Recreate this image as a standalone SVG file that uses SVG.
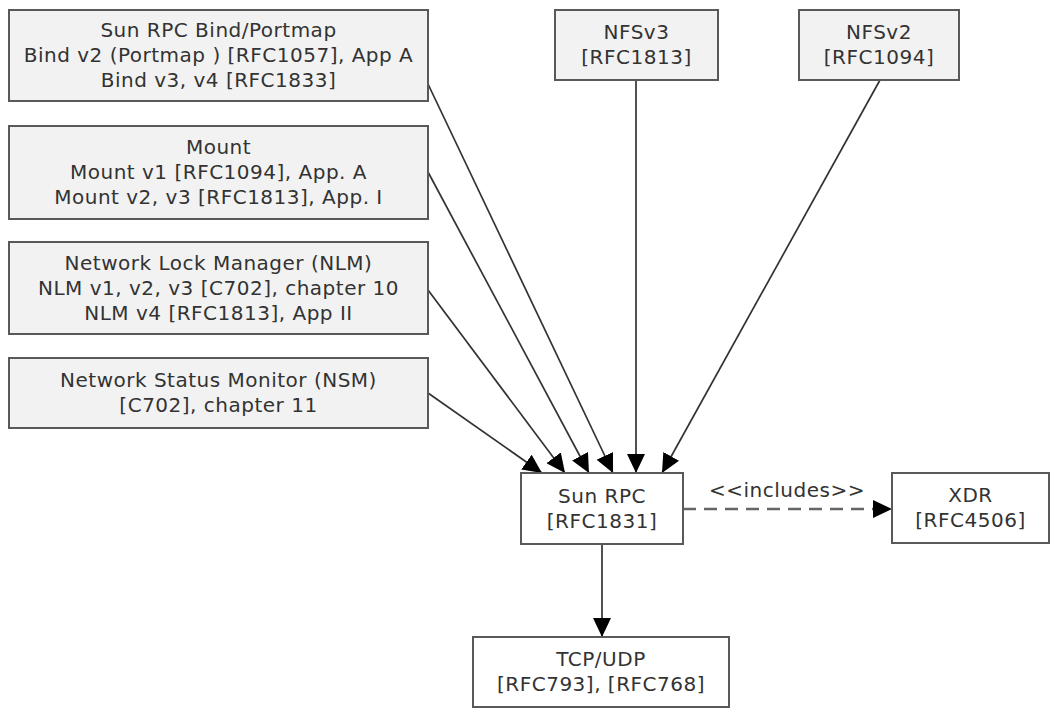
<svg xmlns="http://www.w3.org/2000/svg" width="1057" height="709" viewBox="0 0 1057 709">
  <style>
    .box { stroke: #595959; stroke-width: 2; }
    .grey { fill: #f2f2f2; }
    .white { fill: #ffffff; }
    text { font-family: "DejaVu Sans", Verdana, sans-serif; font-size: 20px; letter-spacing: 0.5px; fill: #333333; text-anchor: middle; }
    .edge { fill: none; stroke: #333333; stroke-width: 1.7; }
    .dash { fill: none; stroke: #666666; stroke-width: 2.5; stroke-dasharray: 13 8; }
  </style>
  <defs>
    <marker id="arrow" markerUnits="userSpaceOnUse" markerWidth="20" markerHeight="18" refX="19" refY="9" orient="auto">
      <path d="M0,0 L19,9 L0,18 Z" fill="#000000"/>
    </marker>
  </defs>

  <rect width="1057" height="709" fill="#ffffff"/>

  <g id="connectors">
    <path class="edge" d="M428,84 L613,473" marker-end="url(#arrow)"/>
    <path class="edge" d="M428,172 L589,473" marker-end="url(#arrow)"/>
    <path class="edge" d="M428,290 L565,473" marker-end="url(#arrow)"/>
    <path class="edge" d="M428,393 L542,473" marker-end="url(#arrow)"/>
    <path class="edge" d="M636,80 L636,473" marker-end="url(#arrow)"/>
    <path class="edge" d="M880,80 L662,473" marker-end="url(#arrow)"/>
    <path class="edge" d="M602,544 L602,637" marker-end="url(#arrow)"/>
    <path class="dash" d="M683,509 L873,509"/>
    <path d="M873,500 L892,509 L873,518 Z" fill="#000000"/>
    <text x="787" y="497">&lt;&lt;includes&gt;&gt;</text>
  </g>

  <g id="bind">
    <rect class="box grey" x="9" y="10" width="419" height="91"/>
    <text x="218.5" y="37">Sun RPC Bind/Portmap</text>
    <text x="218.5" y="62">Bind v2 (Portmap ) [RFC1057], App A</text>
    <text x="218.5" y="87">Bind v3, v4 [RFC1833]</text>
  </g>

  <g id="mount">
    <rect class="box grey" x="9" y="126" width="419" height="93"/>
    <text x="218.5" y="154">Mount</text>
    <text x="218.5" y="179">Mount v1 [RFC1094], App. A</text>
    <text x="218.5" y="204">Mount v2, v3 [RFC1813], App. I</text>
  </g>

  <g id="nlm">
    <rect class="box grey" x="9" y="242" width="419" height="92"/>
    <text x="218.5" y="269.5">Network Lock Manager (NLM)</text>
    <text x="218.5" y="294.5">NLM v1, v2, v3 [C702], chapter 10</text>
    <text x="218.5" y="319.5">NLM v4 [RFC1813], App II</text>
  </g>

  <g id="nsm">
    <rect class="box grey" x="9" y="358" width="419" height="70"/>
    <text x="218.5" y="387">Network Status Monitor (NSM)</text>
    <text x="218.5" y="412">[C702], chapter 11</text>
  </g>

  <g id="nfsv3">
    <rect class="box grey" x="555" y="10" width="163" height="70"/>
    <text x="636.5" y="39">NFSv3</text>
    <text x="636.5" y="64">[RFC1813]</text>
  </g>

  <g id="nfsv2">
    <rect class="box grey" x="799" y="10" width="160" height="70"/>
    <text x="879" y="39">NFSv2</text>
    <text x="879" y="64">[RFC1094]</text>
  </g>

  <g id="sunrpc">
    <rect class="box white" x="521" y="473" width="162" height="71"/>
    <text x="602" y="502.5">Sun RPC</text>
    <text x="602" y="527.5">[RFC1831]</text>
  </g>

  <g id="xdr">
    <rect class="box white" x="892" y="473" width="157" height="70"/>
    <text x="970.5" y="502">XDR</text>
    <text x="970.5" y="527">[RFC4506]</text>
  </g>

  <g id="tcpudp">
    <rect class="box white" x="473" y="637" width="256" height="70"/>
    <text x="601" y="666">TCP/UDP</text>
    <text x="601" y="691">[RFC793], [RFC768]</text>
  </g>
</svg>
